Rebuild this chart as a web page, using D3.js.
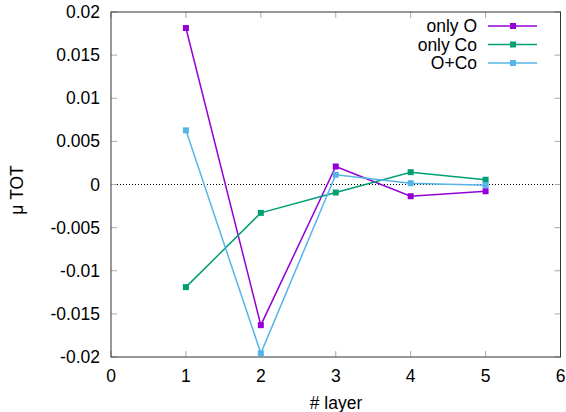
<!DOCTYPE html>
<html><head><meta charset="utf-8">
<script src="https://cdn.jsdelivr.net/npm/d3@7"></script>
<style>body{margin:0;background:#fff}svg{display:block;font-family:"Liberation Sans",Arial,sans-serif}</style>
</head><body>
<svg id="c" width="566" height="412"></svg>
<script>
const layers = [1, 2, 3, 4, 5];
const onlyO = [0.01814, -0.01631, 0.00209, -0.00136, -0.00078];
const onlyCo = [-0.0119, -0.00329, -0.00093, 0.00143, 0.00055];
const oPlusCo = [0.00628, -0.01957, 0.00113, 0.00015, -0.00008];
const seriesNames = ["only O", "only Co", "O+Co"];
const seriesColors = ["#9400d3", "#009e73", "#56b4e9"];
const xTicks = [0, 1, 2, 3, 4, 5, 6];
const yTicks = [0.02, 0.015, 0.01, 0.005, 0, -0.005, -0.01, -0.015, -0.02];
const yTickLabels = ["0.02", "0.015", "0.01", "0.005", "0", "-0.005", "-0.01", "-0.015", "-0.02"];

const svg = d3.select("#c");
const L = 111, R = 560.5, T = 12, B = 357;
const x = d3.scaleLinear().domain([0, 6]).range([L, R]);
const y = d3.scaleLinear().domain([-0.02, 0.02]).range([B, T]);
const fs = 17.5;

// zero line
svg.append("line").attr("x1", L).attr("x2", R).attr("y1", y(0)).attr("y2", y(0))
  .attr("stroke", "#000").attr("stroke-width", 1).attr("stroke-dasharray", "1,2");

// ticks (inward, mirrored)
const tk = 6;
xTicks.forEach(v => {
  svg.append("line").attr("x1", x(v)).attr("x2", x(v)).attr("y1", B).attr("y2", B - tk).attr("stroke", "#aaa");
  svg.append("line").attr("x1", x(v)).attr("x2", x(v)).attr("y1", T).attr("y2", T + tk).attr("stroke", "#aaa");
});
yTicks.forEach(v => {
  svg.append("line").attr("x1", L).attr("x2", L + tk).attr("y1", y(v)).attr("y2", y(v)).attr("stroke", "#aaa");
  svg.append("line").attr("x1", R).attr("x2", R - tk).attr("y1", y(v)).attr("y2", y(v)).attr("stroke", "#aaa");
});

// border
svg.append("rect").attr("x", L).attr("y", T).attr("width", R - L).attr("height", B - T)
  .attr("fill", "none").attr("stroke", "#333").attr("stroke-width", 1);

// tick labels
xTicks.forEach(v => {
  svg.append("text").attr("x", x(v)).attr("y", 382).attr("text-anchor", "middle")
    .attr("font-size", fs).attr("fill", "#000").text(String(v));
});
yTicks.forEach((v, i) => {
  svg.append("text").attr("x", 100).attr("y", y(v) + 6).attr("text-anchor", "end")
    .attr("font-size", fs).attr("fill", "#000").text(yTickLabels[i]);
});

// axis labels
svg.append("text").attr("x", 336).attr("y", 409).attr("text-anchor", "middle")
  .attr("font-size", fs).text("# layer");
svg.append("text").attr("transform", "translate(23,190) rotate(-90)").attr("text-anchor", "middle")
  .attr("font-size", fs).text("μ TOT");

// series
const allSeries = [onlyO, onlyCo, oPlusCo];
const line = d3.line().x((d, i) => x(layers[i])).y(d => y(d));
allSeries.forEach((s, k) => {
  svg.append("path").attr("d", line(s)).attr("fill", "none")
    .attr("stroke", seriesColors[k]).attr("stroke-width", 1.5);
  s.forEach((d, i) => {
    svg.append("rect").attr("x", x(layers[i]) - 3).attr("y", y(d) - 3)
      .attr("width", 6).attr("height", 6).attr("fill", seriesColors[k]);
  });
});

// legend
seriesNames.forEach((n, k) => {
  const ly = 26 + k * 18.5;
  svg.append("text").attr("x", 477).attr("y", ly + 6).attr("text-anchor", "end")
    .attr("font-size", fs).text(n);
  svg.append("line").attr("x1", 488).attr("x2", 537).attr("y1", ly).attr("y2", ly)
    .attr("stroke", seriesColors[k]).attr("stroke-width", 1.5);
  svg.append("rect").attr("x", 513 - 3).attr("y", ly - 3).attr("width", 6).attr("height", 6)
    .attr("fill", seriesColors[k]);
});
</script>
</body></html>
